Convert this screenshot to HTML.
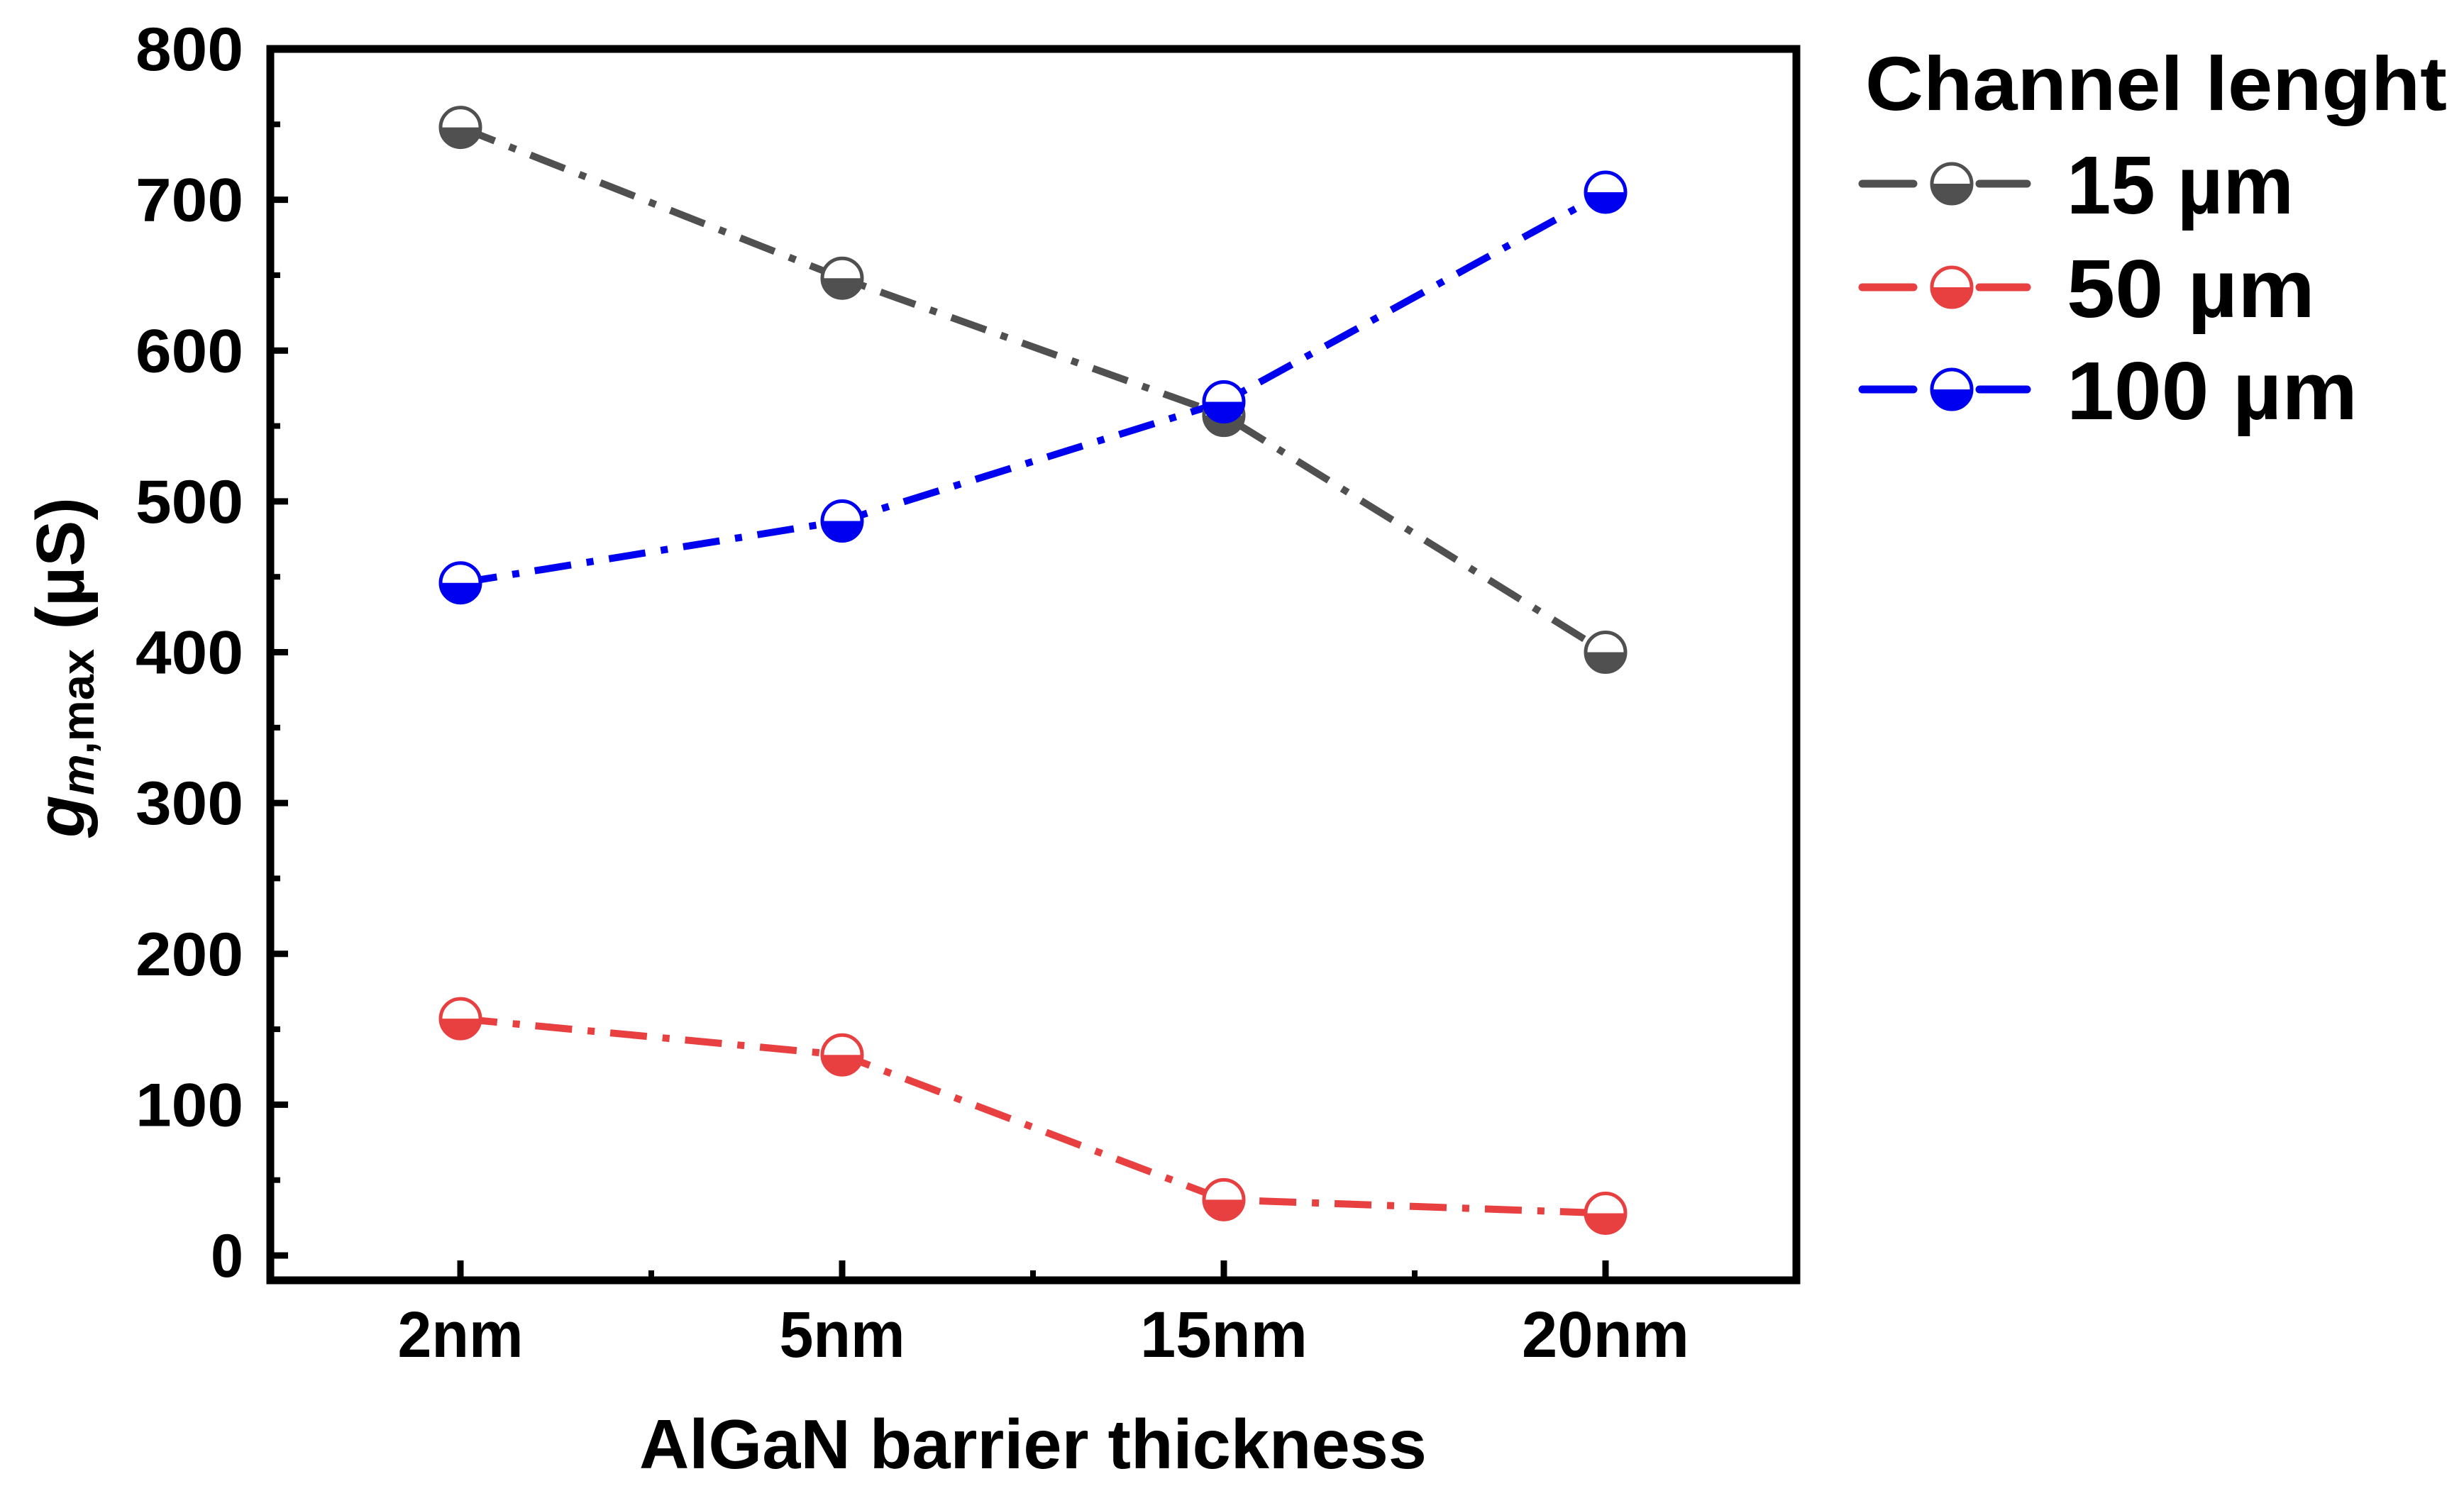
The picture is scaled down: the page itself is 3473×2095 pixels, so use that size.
<!DOCTYPE html>
<html><head><meta charset="utf-8"><style>
html,body{margin:0;padding:0;background:#fff;}
svg{display:block;}
text{font-family:"Liberation Sans Narrow","Liberation Sans",sans-serif;font-weight:bold;fill:#000;}
</style></head><body>
<svg id="chart" width="3473" height="2095" viewBox="0 0 3473 2095" xmlns="http://www.w3.org/2000/svg">
<g id="plot"></g>
</svg>
<script>
const categories = ["2nm","5nm","15nm","20nm"];
const series15 = [748,648,557,400];
const series50 = [157,133,37,28];
const series100 = [446,487,566,705];
const yTicks = [0,100,200,300,400,500,600,700,800];
const seriesNames = ["15 µm","50  µm","100  µm"];
const seriesColors = ["#505050","#e84040","#0000f0"];

const NS="http://www.w3.org/2000/svg";
const svg=document.getElementById('plot');
const L=381,R=2532,T=69,B=1805;
const y0=1770, yPer=(1770-69)/800;
const xStart=649, xStep=538;
function xs(i){return xStart+i*xStep;}
function ys(v){return y0-v*yPer;}
function mk(tag,attrs,parent){const e=document.createElementNS(NS,tag);for(const k in attrs)e.setAttribute(k,attrs[k]);(parent||svg).appendChild(e);return e;}

const frame=mk('rect',{x:L,y:T,width:R-L,height:B-T,fill:'none',stroke:'#000','stroke-width':11});



yTicks.forEach((v,i)=>{
  const y=ys(v);
  const t=mk('line',{x1:L,x2:L+25,y1:y,y2:y,stroke:'#000','stroke-width':9});
  
  
  if(i<yTicks.length-1){
    const ym=ys(v+50);
    const m=mk('line',{x1:L,x2:L+14,y1:ym,y2:ym,stroke:'#000','stroke-width':8});
    
    
  }
  const lb=mk('text',{x:343,y:y+30,'text-anchor':'end','font-size':86,textLength:152,lengthAdjust:'spacingAndGlyphs'});
  if(String(v).length===1){lb.setAttribute('textLength',46);}
  lb.textContent=v;
  
  
});

categories.forEach((c,i)=>{
  const x=xs(i);
  const t=mk('line',{x1:x,x2:x,y1:B,y2:B-28,stroke:'#000','stroke-width':9});
  
  
  const xm=x+xStep/2;
  if(xm<R-10){
    const m=mk('line',{x1:xm,x2:xm,y1:B,y2:B-14,stroke:'#000','stroke-width':8});
    
    
  }
  const lb=mk('text',{x:x,y:1913,'text-anchor':'middle','font-size':92,textLength:c.length*59,lengthAdjust:'spacingAndGlyphs'});
  lb.textContent=c;
  
  
});

const xt=mk('text',{x:1456,y:2070,'text-anchor':'middle','font-size':98,textLength:1110,lengthAdjust:'spacingAndGlyphs'});
xt.textContent='AlGaN barrier thickness';



const yt=mk('text',{transform:'translate(118,941) rotate(-90)','text-anchor':'middle','font-size':96,textLength:480,lengthAdjust:'spacingAndGlyphs'});


yt.innerHTML='<tspan font-style="italic">g</tspan><tspan font-style="italic" font-size="64" dy="14">m</tspan><tspan font-size="64">,max</tspan><tspan dy="-14"> (µS)</tspan>';

function marker(cx,cy,color,parent){
  const g=mk('g',{},parent);
  
  
  const r=28;
  mk('circle',{cx:cx,cy:cy,r:r,fill:'#fff'},g);
  mk('path',{d:`M${cx-r},${cy} A${r},${r} 0 0 0 ${cx+r},${cy} Z`,fill:color},g);
  mk('circle',{cx:cx,cy:cy,r:r,fill:'none',stroke:color,'stroke-width':5},g);
  return g;
}

const allSeries=[series15,series50,series100];
allSeries.forEach((vals,si)=>{
  const col=seriesColors[si];
  const pts=vals.map((v,i)=>xs(i)+','+ys(v)).join(' ');
  const ln=mk('polyline',{points:pts,fill:'none',stroke:col,'stroke-width':10,'stroke-dasharray':'52 22 10 22'});
  
  
});
allSeries.forEach((vals,si)=>{
  vals.forEach((v,i)=>{marker(xs(i),ys(v),seriesColors[si]);});
});

const lg=mk('g',{});


const lt=mk('text',{x:2629,y:155,'font-size':108,textLength:820,lengthAdjust:'spacingAndGlyphs'},lg);
lt.textContent='Channel lenght';


const legY=[259,405,549];
const legW=[320,350,410];
seriesNames.forEach((n,i)=>{
  const y=legY[i];
  const g=mk('g',{},lg);
  
  
  mk('line',{x1:2625,x2:2697,y1:y,y2:y,stroke:seriesColors[i],'stroke-width':11,'stroke-linecap':'round'},g);
  mk('line',{x1:2790,x2:2857,y1:y,y2:y,stroke:seriesColors[i],'stroke-width':11,'stroke-linecap':'round'},g);
  marker(2751,y,seriesColors[i],g);
  const t=mk('text',{x:2913,y:y+42,'font-size':116,textLength:legW[i],lengthAdjust:'spacingAndGlyphs'},g);
  t.textContent=n;
  
  
});
</script>
</body></html>
